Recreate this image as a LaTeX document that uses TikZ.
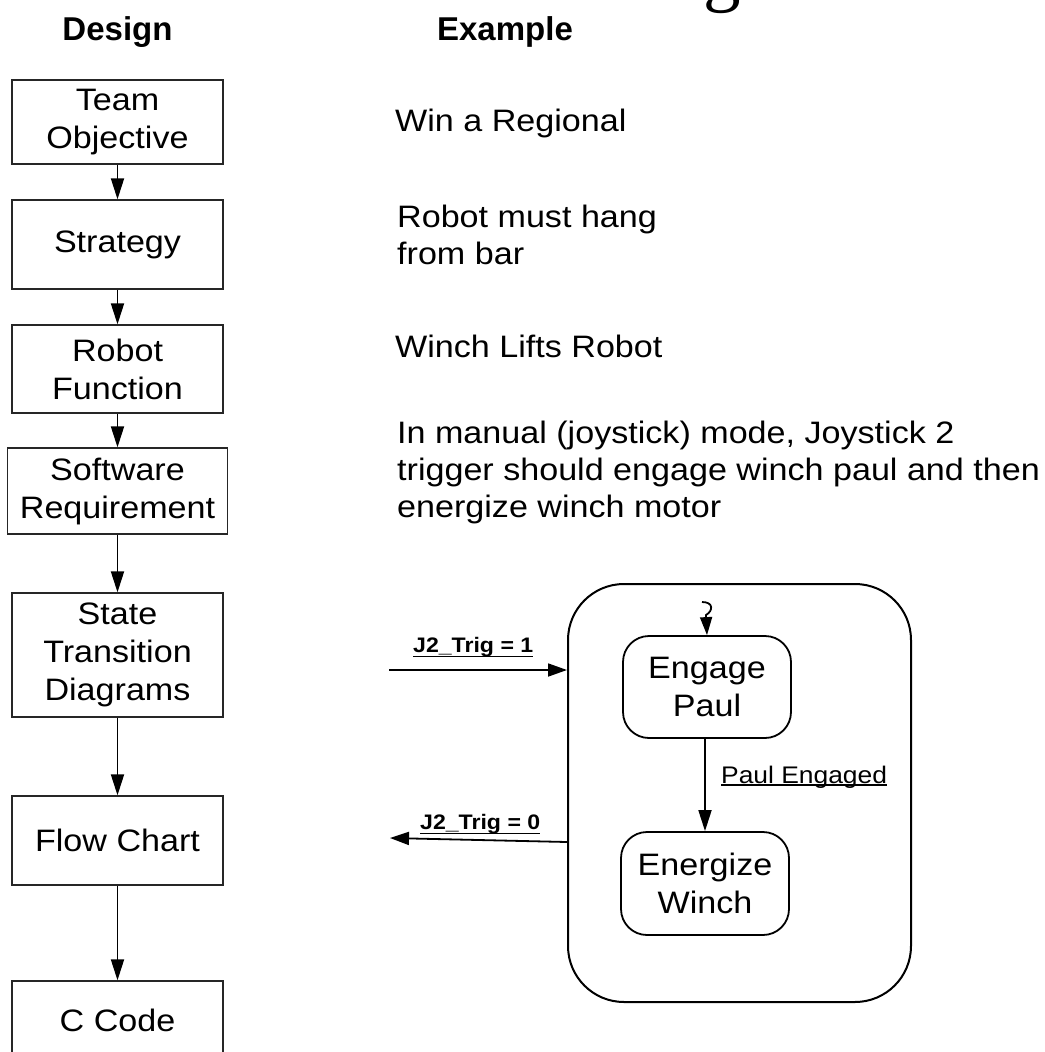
\documentclass[tikz,border=0pt]{standalone}
\usepackage{fontspec}
\setmainfont{Liberation Sans}[FakeStretch=1.1]
\newfontfamily\headfont{Liberation Sans}
\newfontfamily\titlefont{Liberation Serif}
\usetikzlibrary{arrows.meta}

% underline drawn as a rule of chosen thickness and depth
\newcommand{\ulabel}[2][2.5pt]{\sbox0{#2}\rlap{\rule[-#1]{\wd0}{1.5pt}}\usebox0}

\begin{document}
\begin{tikzpicture}[x=1pt,y=-1pt,
  stage/.style={draw=black!85, line width=1.3pt, minimum width=211pt, inner sep=0pt,
    align=center, font=\fontsize{31}{38}\selectfont},
  flow/.style={line width=1.8pt, -{Triangle[length=21pt,width=13pt]}},
  state/.style={draw, line width=1.8pt, rounded corners=26pt, minimum width=168pt,
    minimum height=102pt, inner sep=0pt, align=center, font=\fontsize{31}{38}\selectfont},
  body/.style={anchor=base west, align=left, inner sep=0pt, font=\fontsize{31}{37}\selectfont},
  head/.style={anchor=base, inner sep=0pt, font=\headfont\bfseries\fontsize{33}{38}\selectfont},
  guard/.style={anchor=base west, inner sep=0pt, font=\bfseries\fontsize{21}{24}\selectfont},
  trans/.style={line width=1.8pt, -{Triangle[length=19pt,width=13pt]}},
]
\useasboundingbox (0,0) rectangle (1044,1052);
\clip (0,0) rectangle (1044,1052);

% cut-off title letter at the top edge
\node[anchor=base, inner sep=0pt, font=\titlefont\fontsize{75}{75}\selectfont] (ttl) at (722,-2) {g};

% column headings
\node[head] (hd) at (117.5,40) {Design};
\node[head] (he) at (505,40) {Example};

% design steps
\node[stage, minimum height=84pt] (team) at (117.5,122) {Team\\Objective};
\node[stage, minimum height=89pt] (strat) at (117.5,244.5) {Strategy};
\node[stage, minimum height=88pt] (func) at (117.5,369) {Robot\\Function};
\node[stage, minimum width=220pt, minimum height=86pt] (req) at (117.5,491) {Software\\Requirement};
\node[stage, minimum height=124pt] (std) at (117.5,655) {State\\Transition\\Diagrams};
\node[stage, minimum height=89pt] (flow) at (117.5,840.5) {Flow Chart};
\node[stage, minimum height=79pt] (code) at (117.5,1020.5) {C Code};

\draw[flow] (team) -- (strat);
\draw[flow] (strat) -- (func);
\draw[flow] (func) -- (req);
\draw[flow] (req) -- (std);
\draw[flow] (std) -- (flow);
\draw[flow] (flow) -- (code);

% examples (base anchor sits on the last line)
\node[body] (ex1) at (395,131) {Win a Regional};
\node[body] (ex2) at (397,264) {Robot must hang\\from bar};
\node[body] (ex3) at (395,357) {Winch Lifts Robot};
\node[body] (ex4) at (397,517) {In manual (joystick) mode, Joystick 2\\trigger should engage winch paul and then\\energize winch motor};

% state chart
\node[draw, line width=2pt, rounded corners=56pt, minimum width=343pt, minimum height=418pt, inner sep=0pt] (chart) at (739.5,793) {};
\node[state] (engage) at (707,687) {Engage\\Paul};
\node[state, minimum height=103pt] (energize) at (705,883.5) {Energize\\Winch};

\coordinate (init) at (702,602);
\draw[line width=1.8pt, -{Triangle[length=18pt,width=12pt]}]
  (init) .. controls (714,602) and (713,611) .. (706,615) -- (engage.north);
\draw[flow] (engage.south -| energize.north) -- (energize.north);
\node[anchor=base west, inner sep=0pt, font=\fontsize{24}{28}\selectfont] (pe) at (721,783) {\ulabel{Paul Engaged}};

\coordinate (src) at (389,670);
\draw[trans] (src) -- (src -| chart.west);
\node[guard] (g1) at (413,652) {\ulabel[5pt]{J2\_Trig = 1}};

\coordinate (lvl) at (0,842);
\coordinate (snk) at (390,838);
\draw[trans] (lvl -| chart.west) -- (snk);
\node[guard] (g0) at (420,829) {\ulabel[5pt]{J2\_Trig = 0}};
\end{tikzpicture}
\end{document}
